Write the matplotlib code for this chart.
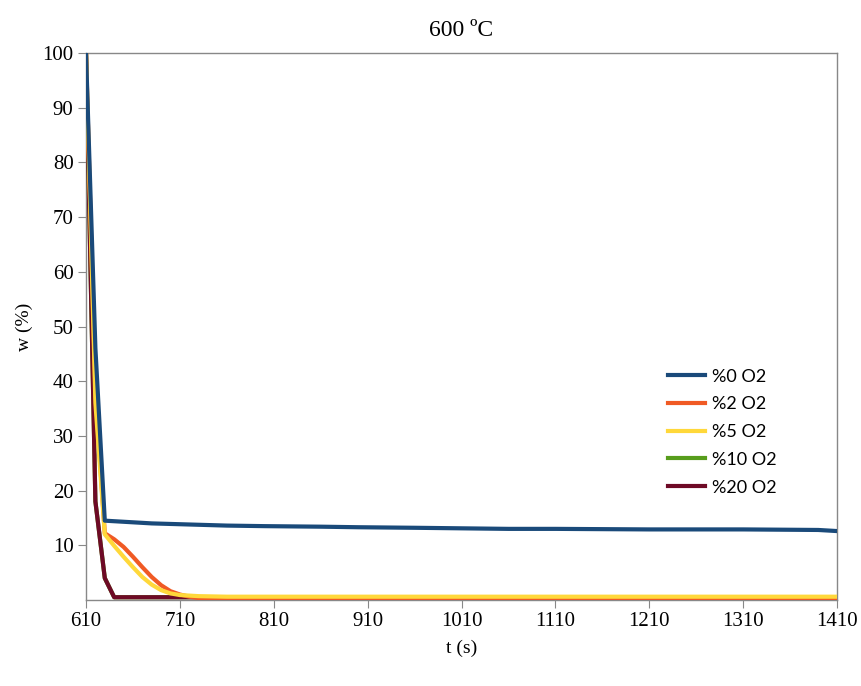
import matplotlib.pyplot as plt

# time (s) and remaining weight (%) for each O2 level
t0 = [610, 620, 630, 640, 660, 680, 700, 720, 760, 800, 860, 900, 960, 1010, 1060, 1110, 1210, 1310, 1390, 1410]
w0 = [100, 46, 14.5, 14.4, 14.2, 14.0, 13.9, 13.8, 13.6, 13.5, 13.4, 13.3, 13.2, 13.1, 13.0, 13.0, 12.9, 12.9, 12.8, 12.6]

t2 = [610, 620, 630, 640, 650, 660, 670, 680, 690, 700, 710, 720, 730, 750, 800, 900, 1100, 1410]
w2 = [100, 38, 12.2, 11.1, 9.7, 7.9, 6.0, 4.2, 2.7, 1.6, 1.0, 0.6, 0.35, 0.2, 0.1, 0.1, 0.1, 0.1]

t5 = [610, 620, 630, 640, 650, 660, 670, 680, 690, 700, 710, 730, 760, 900, 1100, 1410]
w5 = [100, 36, 12.0, 9.9, 7.9, 6.0, 4.2, 2.8, 1.8, 1.2, 0.9, 0.7, 0.6, 0.6, 0.6, 0.6]

t10 = [610, 620, 630, 640, 700, 900, 1410]
w10 = [100, 18, 4.0, 0.5, 0.5, 0.5, 0.5]

t20 = [610, 620, 630, 640, 700, 900, 1410]
w20 = [100, 18, 4.0, 0.5, 0.5, 0.5, 0.5]

labels = ["%0 O2", "%2 O2", "%5 O2", "%10 O2", "%20 O2"]
colors = ["#1a4a7a", "#f05a24", "#ffd83a", "#579d1c", "#6e0a26"]

fig = plt.figure(figsize=(8.61, 6.86), dpi=100)
ax = fig.add_axes([0.0999, 0.1254, 0.8723, 0.7973])

series = [(t0, w0), (t2, w2), (t5, w5), (t10, w10), (t20, w20)]
order = [3, 4, 1, 2, 0]  # drawing order, so yellow/orange sit on top at the tail
handles = {}
for k, i in enumerate(order):
    t, w = series[i]
    ln, = ax.plot(t, w, color=colors[i], lw=3, solid_joinstyle="round", zorder=3 + k * 0.1)
    handles[i] = ln

ax.set_xlim(610, 1410)
ax.set_ylim(0, 100)
ax.set_xticks(range(610, 1411, 100))
ax.set_yticks(range(10, 101, 10))

serif = "Liberation Serif"
for lab in ax.get_xticklabels() + ax.get_yticklabels():
    lab.set_fontfamily(serif)
    lab.set_fontsize(15)
ax.tick_params(direction="out", length=6, color="#888888", pad=3)

for s in ax.spines.values():
    s.set_color("#888888")
    s.set_linewidth(1.0)

ax.set_title("600 ºC", fontfamily=serif, fontsize=17, pad=12)
ax.set_xlabel("t (s)", fontfamily=serif, fontsize=14, labelpad=6)
ax.set_ylabel("w (%)", fontfamily=serif, fontsize=14, labelpad=7)

leg = ax.legend([handles[i] for i in range(5)], labels, loc="center left",
                bbox_to_anchor=(0.775, 0.307), frameon=False, borderpad=0,
                borderaxespad=0, prop={"family": "Lato", "size": 13},
                handlelength=2.05, handletextpad=0.4, labelspacing=0.65)

fig.savefig("out.png", dpi=100)
